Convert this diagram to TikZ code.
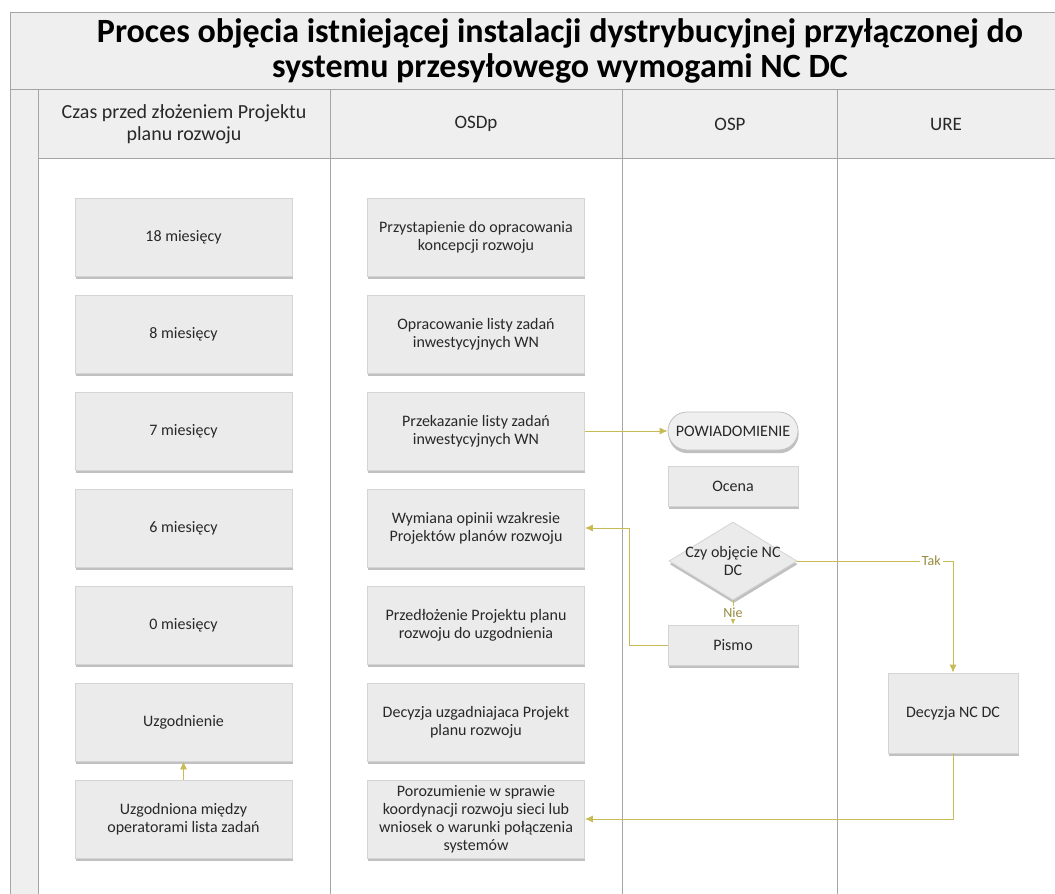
\documentclass[tikz,border=0pt]{standalone}
\usepackage{fontspec}
\setmainfont{Carlito}
\usetikzlibrary{arrows.meta,shapes.geometric,shadows}

\definecolor{lanegray}{RGB}{239,239,239}
\definecolor{laneline}{RGB}{165,165,165}
\definecolor{boxfill}{RGB}{235,235,235}
\definecolor{boxline}{RGB}{212,212,212}
\definecolor{flow}{RGB}{200,186,84}
\definecolor{txt}{RGB}{40,40,40}

\begin{document}
\begin{tikzpicture}[x=0.5pt, y=-0.5pt, font=\fontsize{8}{9}\selectfont,
    box/.style={draw=boxline, fill=boxfill, text=txt, align=center, inner sep=2pt,
      minimum width=108.5pt, minimum height=39pt,
      drop shadow={shadow xshift=0.3pt, shadow yshift=-1.6pt, fill=black!45, opacity=0.55}},
    ospbox/.style={box, minimum width=65pt, minimum height=20pt},
    decision/.style={diamond, draw=boxline, fill=boxfill, inner sep=0pt,
      minimum width=64pt, minimum height=39pt,
      drop shadow={shadow xshift=0.3pt, shadow yshift=-1.6pt, fill=black!45, opacity=0.55}},
    flowline/.style={draw=flow, -{Latex[length=4pt,width=3.5pt]}},
    flowlbl/.style={fill=white, inner sep=1pt, text=flow!75!black, font=\fontsize{7}{8}\selectfont}]
            \useasboundingbox (0,0) rectangle (1055,894);

            % lanes
            \fill[lanegray] (10,12) rectangle (1060,158);
            \fill[lanegray] (10,89) rectangle (38,900);
            \draw[laneline] (10,900) -- (10,12) -- (1060,12);
            \draw[laneline] (10,89) -- (1060,89);
            \draw[laneline] (38,158) -- (1060,158);
            \draw[laneline] (38,89) -- (38,900);
            \draw[laneline] (330,89) -- (330,900);
            \draw[laneline] (622,89) -- (622,900);
            \draw[laneline] (837,89) -- (837,900);

            \node[align=center, font=\fontsize{17}{17.5}\selectfont\bfseries] (title) at (560,51)
              {Proces objęcia istniejącej instalacji dystrybucyjnej przyłączonej do\\systemu przesyłowego wymogami NC DC};
            \node[align=center, text=txt, font=\fontsize{10}{11}\selectfont] (czas) at (184,124) {Czas przed złożeniem Projektu\\planu rozwoju};
            \node[text=txt, font=\fontsize{9.5}{11}\selectfont] (osdp) at (476,124) {OSDp};
            \node[text=txt, font=\fontsize{9.5}{11}\selectfont] (osp) at (730,124) {OSP};
            \node[text=txt, font=\fontsize{9.5}{11}\selectfont] (ure) at (946,124) {URE};

            % czas
            \node[box] (m18) at (183.5,237) {18 miesięcy};
            \node[box] (m8) at (183.5,334) {8 miesięcy};
            \node[box] (m7) at (183.5,431) {7 miesięcy};
            \node[box] (m6) at (183.5,528) {6 miesięcy};
            \node[box] (m0) at (183.5,625) {0 miesięcy};
            \node[box] (uzgodnienie) at (183.5,722) {Uzgodnienie};
            \node[box] (uzgodniona) at (183.5,819) {Uzgodniona między\\operatorami lista zadań};

            % OSDp
            \node[box] (przystapienie) at (476,237) {Przystapienie do opracowania\\koncepcji rozwoju};
            \node[box] (opracowanie) at (476,334) {Opracowanie listy zadań\\inwestycyjnych WN};
            \node[box] (przekazanie) at (476,431) {Przekazanie listy zadań\\inwestycyjnych WN};
            \node[box] (wymiana) at (476,528) {Wymiana opinii wzakresie\\Projektów planów rozwoju};
            \node[box] (przedlozenie) at (476,625) {Przedłożenie Projektu planu\\rozwoju do uzgodnienia};
            \node[box] (decyzjaproj) at (476,722) {Decyzja uzgadniajaca Projekt\\planu rozwoju};
            \node[box] (porozumienie) at (476,819) {Porozumienie w sprawie\\koordynacji rozwoju sieci lub\\wniosek o warunki połączenia\\systemów};

            % OSP
            \node[ospbox, rounded corners=9.5pt, fill=lanegray, draw=laneline!70, minimum height=19pt] (powiadomienie) at (733,431) {POWIADOMIENIE};
            \node[ospbox] (ocena) at (733,486) {Ocena};
            \node[decision, label={[align=center, text=txt]center:Czy objęcie NC\\DC}] (czyobjecie) at (733,561) {};
            \node[ospbox] (pismo) at (733,645) {Pismo};

            % URE
            \node[ospbox, minimum height=40pt] (decyzjanc) at (953,713) {Decyzja NC DC};

            % przeplyw
            \draw[flowline] (uzgodniona) -- (uzgodnienie);
            \draw[flowline] (przekazanie) -- (powiadomienie);
            \draw[flowline] (czyobjecie.east) -- node[flowlbl, pos=0.86] {Tak} (czyobjecie.east -| decyzjanc.north) -- (decyzjanc.north);
            \draw[flowline] (czyobjecie.south) -- node[flowlbl] {Nie} (pismo.north);
            \draw[flowline] (pismo.west) -- ++(-38,0) |- (wymiana.east);
            \draw[flowline] (decyzjanc.south) |- (porozumienie.east);
        \end{tikzpicture}
\end{document}
